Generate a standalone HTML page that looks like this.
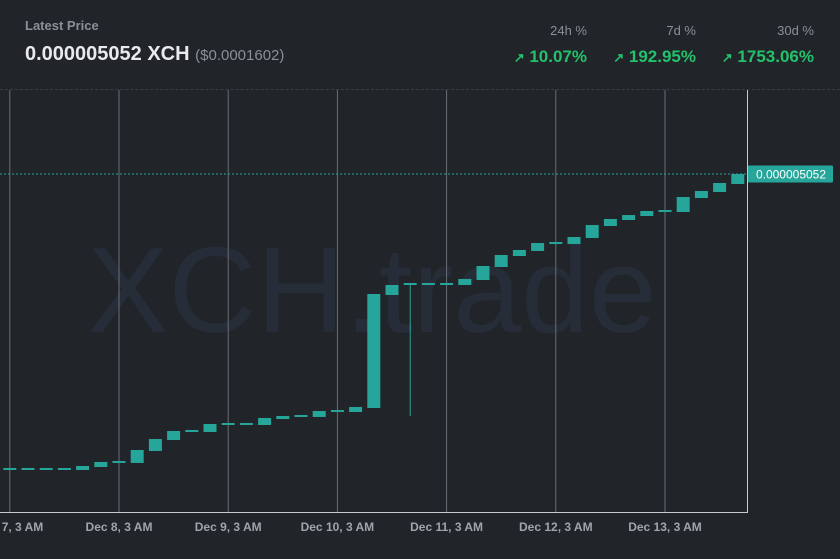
<!DOCTYPE html>
<html><head><meta charset="utf-8"><style>
html,body{margin:0;padding:0;background:#212429;width:840px;height:559px;overflow:hidden;font-family:"Liberation Sans",sans-serif}
.hdr{position:absolute;left:0;top:0;width:840px;height:89px;border-bottom:1px dashed #3a3e45}
.lbl{position:absolute;color:#8a8f99;font-size:13px;font-weight:bold}
.big{position:absolute;left:25px;top:43px;color:#e8eaed;font-size:20px;font-weight:bold}
.big span{color:#8a8f99;font-size:15px;font-weight:normal}
.pct{position:absolute;color:#23c16b;font-size:17px;font-weight:bold;text-align:right}
.pct i{font-style:normal;font-size:13px}
.stat-h{position:absolute;color:#8a8f99;font-size:13px;text-align:right}
</style></head><body>
<div class="hdr">
<div class="lbl" style="left:25px;top:18px">Latest Price</div>
<div class="big">0.000005052 XCH <span>($0.0001602)</span></div>
<div class="stat-h" style="right:253px;top:23px">24h %</div>
<div class="stat-h" style="right:144px;top:23px">7d %</div>
<div class="stat-h" style="right:26px;top:23px">30d %</div>
<div class="pct" style="right:253px;top:47px"><i>↗</i> 10.07%</div>
<div class="pct" style="right:144px;top:47px"><i>↗</i> 192.95%</div>
<div class="pct" style="right:26px;top:47px"><i>↗</i> 1753.06%</div>
</div>
<svg id="chart" width="840" height="559" style="position:absolute;left:0;top:0">
<text x="372" y="332" font-size="122" fill="#272d38" text-anchor="middle" font-family="Liberation Sans, sans-serif">XCH.trade</text>
</svg>
<script>
const opens=[0.30,0.30,0.30,0.30,0.284,0.332,0.413,0.397,0.590,0.767,0.912,0.896,1.025,1.025,1.009,1.105,1.154,1.138,1.234,1.218,1.283,3.103,3.280,3.280,3.280,3.264,3.344,3.554,3.731,3.812,3.940,3.924,4.021,4.214,4.311,4.375,4.456,4.440,4.665,4.762,4.891];
const closes=[0.30,0.30,0.30,0.30,0.348,0.413,0.413,0.606,0.783,0.912,0.912,1.025,1.025,1.025,1.122,1.154,1.154,1.234,1.234,1.299,3.119,3.264,3.280,3.280,3.280,3.361,3.570,3.747,3.828,3.940,3.940,4.037,4.230,4.327,4.391,4.456,4.456,4.681,4.778,4.907,5.052];
const lows=[null,null,null,null,null,null,null,null,null,null,null,null,null,null,null,null,null,null,null,null,null,null,1.154,null,null,null,null,null,null,null,null,null,null,null,null,null,null,null,null,null,null];
const tickLabels=["Dec 7, 3 AM","Dec 8, 3 AM","Dec 9, 3 AM","Dec 10, 3 AM","Dec 11, 3 AM","Dec 12, 3 AM","Dec 13, 3 AM"];
const tickIndex=[0,6,12,18,24,30,36];
const lastPrice="0.000005052";
const NS="http://www.w3.org/2000/svg";
const svg=document.getElementById('chart');
const xs=i=>9.8+i*18.2;
const ys=p=>469-(p-0.3)/0.016108;
function mk(t,a){const e=document.createElementNS(NS,t);for(const k in a)e.setAttribute(k,a[k]);svg.appendChild(e);return e;}
tickIndex.forEach((ti,k)=>{
  const g=mk('line',{x1:xs(ti),x2:xs(ti),y1:90,y2:512,stroke:'#6a6e75','stroke-width':1});
  
  
  const t=mk('text',{x:xs(ti),y:531,'font-size':12,'font-weight':'bold',fill:'#a0a4ab','text-anchor':'middle'});
  t.textContent=tickLabels[k];
  
  
});
const ax=mk('line',{x1:0,x2:748,y1:512.5,y2:512.5,stroke:'#c8cacd','stroke-width':1});


const rb=mk('line',{x1:747.5,x2:747.5,y1:90,y2:512,stroke:'#c8cacd','stroke-width':1});


const lp=closes[closes.length-1];
const pl=mk('line',{x1:0,x2:748,y1:ys(lp),y2:ys(lp),stroke:'#26a69a','stroke-width':1,'stroke-dasharray':'2,2'});


opens.forEach((o,i)=>{
  const c=closes[i];
  if(lows[i]!==null){
    const w=mk('line',{x1:xs(i),x2:xs(i),y1:ys(Math.max(o,c)),y2:ys(lows[i]),stroke:'#26a69a','stroke-width':1});
    
    
  }
  let top=ys(Math.max(o,c)),bot=ys(Math.min(o,c));
  if(bot-top<2){top-=1;bot=top+2;}
  const r=mk('rect',{x:xs(i)-6.5,y:top,width:13,height:bot-top,fill:'#26a69a'});
  
  
});
const tag=mk('rect',{x:748,y:ys(lp)-8.5,width:85,height:17,fill:'#26a69a',rx:1});


const tt=mk('text',{x:791,y:ys(lp)+4.5,'font-size':12,fill:'#ffffff','text-anchor':'middle'});
tt.textContent=lastPrice;


</script>
</body></html>
